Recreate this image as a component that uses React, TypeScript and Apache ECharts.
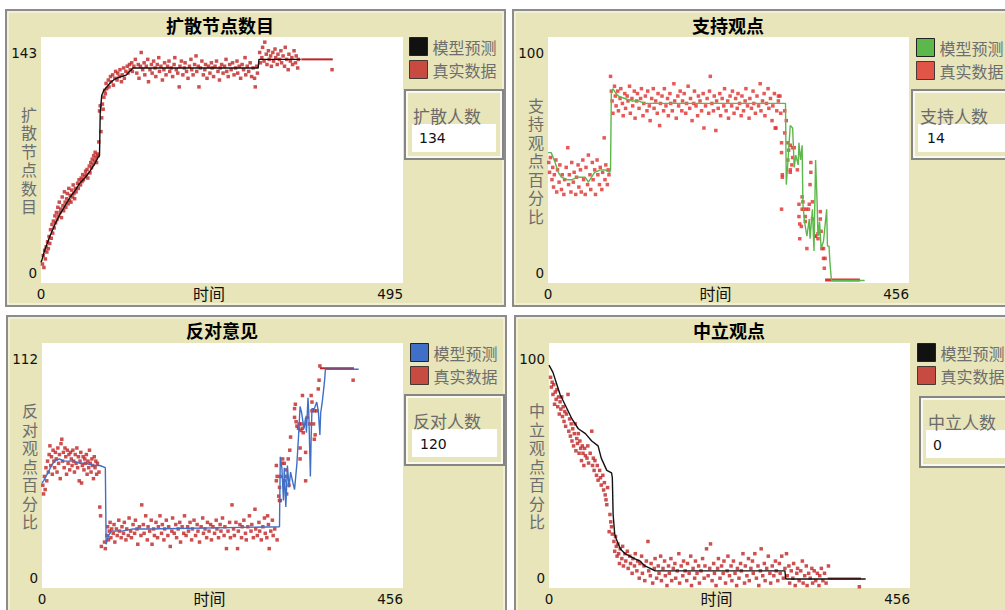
import React, { useEffect, useRef } from "react";
import * as echarts from "echarts";

// ---------------- data ----------------
const LEGEND_NAMES = ["模型预测", "真实数据"];
const TITLES = ["扩散节点数目", "支持观点", "反对意见", "中立观点"];
const Y_NAMES = ["扩散节点数目", "支持观点百分比", "反对观点百分比", "中立观点百分比"];
const X_NAME = "时间";
const X_MAX = [495, 456, 456, 456];
const Y_MAX = [143, 100, 112, 100];
const MONITOR_LABELS = ["扩散人数", "支持人数", "反对人数", "中立人数"];
const MONITOR_VALUES = ["134", "14", "120", "0"];

const P1_MODEL = [[0,12],[1,13],[5,19],[12,27],[19,34],[26,40],[33,45],[40,50],[47,54],[53,58],[60,61],[67,65],[73,69],[78,73],[80,74],[81,99],[83,109],[86,112],[90,114],[96,117],[103,119],[110,120],[117,121],[121,123],[126,125],[297,125],[298,130],[355,130]];
const P1_REAL_LINE = [[356,130],[399,130]];
const P1_REAL = [[2,11],[3,16],[4,9],[5,19],[6,14],[7,21],[8,18],[9,24],[10,20],[11,27],[12,23],[13,31],[14,26],[15,34],[16,29],[17,36],[18,32],[19,39],[20,35],[21,41],[22,37],[23,44],[24,39],[25,47],[26,41],[27,43],[28,38],[29,50],[30,45],[31,42],[32,53],[33,47],[34,44],[35,49],[36,52],[37,46],[38,55],[39,48],[40,51],[41,47],[42,54],[43,50],[44,57],[45,52],[46,49],[47,55],[48,53],[50,58],[51,55],[52,60],[54,57],[55,61],[56,59],[57,63],[58,60],[60,62],[61,65],[62,63],[63,66],[64,61],[66,68],[67,64],[68,70],[69,67],[70,72],[71,69],[72,74],[73,71],[74,76],[75,73],[76,70],[77,75],[78,74],[79,82],[80,100],[81,103],[82,88],[83,96],[84,104],[85,101],[86,108],[87,112],[88,110],[89,116],[90,113],[92,118],[93,114],[95,120],[96,117],[98,121],[99,115],[101,119],[102,123],[104,118],[105,122],[107,120],[108,124],[110,117],[111,121],[113,125],[114,119],[116,123],[118,126],[119,122],[121,127],[122,124],[124,128],[125,123],[127,126],[129,130],[131,122],[133,127],[134,119],[136,126],[137,134],[139,124],[141,128],[142,121],[144,126],[146,130],[147,117],[149,124],[151,127],[152,122],[154,129],[156,125],[157,120],[159,127],[161,131],[162,123],[164,126],[166,118],[168,124],[169,128],[171,121],[173,126],[175,129],[176,123],[178,125],[180,120],[182,127],[183,131],[185,124],[187,122],[189,114],[190,126],[192,129],[194,121],[196,125],[197,128],[199,123],[201,119],[203,126],[205,130],[206,124],[208,121],[210,127],[212,132],[213,123],[215,126],[216,114],[218,125],[220,129],[222,121],[224,124],[225,127],[227,119],[229,126],[231,122],[233,128],[234,125],[236,120],[238,126],[240,129],[242,123],[244,118],[245,125],[247,127],[249,122],[251,126],[253,130],[254,123],[256,120],[258,127],[260,124],[262,128],[264,121],[266,125],[268,129],[269,122],[271,126],[273,119],[275,127],[277,124],[279,131],[280,121],[282,126],[284,123],[286,128],[288,120],[290,125],[292,119],[293,114],[295,126],[296,122],[299,134],[300,128],[302,131],[303,137],[305,129],[306,140],[308,133],[309,127],[311,135],[312,130],[314,132],[315,126],[317,134],[318,129],[320,136],[321,131],[323,127],[324,133],[326,130],[328,135],[329,128],[331,132],[333,126],[334,137],[336,130],[338,124],[339,133],[341,129],[343,131],[344,127],[346,135],[348,128],[349,132],[351,125],[352,130],[398,124]];

const P2_MODEL = [[0,53],[4,53],[9,49],[13,45],[17,43],[24,42],[30,42],[38,43],[47,43],[51,41],[55,43],[59,45],[66,46],[72,46],[78,45],[79,46],[80,77],[82,79],[86,77],[89,76],[97,75],[106,74],[114,74],[122,73],[131,73],[300,73],[301,40],[303,49],[306,64],[309,63],[311,47],[313,52],[316,48],[317,57],[319,50],[321,56],[322,32],[324,25],[327,19],[330,26],[331,18],[334,30],[336,13],[338,50],[340,32],[341,19],[343,25],[345,14],[348,17],[352,30],[353,15],[355,15],[356,9],[358,1],[400,1]];
const P2_REAL_LINE = [[350,1.2],[394,1.2]];
const P2_REAL = [[1,49],[2,45],[3,51],[5,42],[6,47],[7,39],[8,44],[10,50],[11,37],[12,46],[14,41],[15,48],[17,38],[18,44],[20,36],[21,42],[23,47],[25,55],[26,40],[27,44],[29,37],[30,49],[32,41],[33,45],[35,36],[36,43],[38,48],[39,39],[41,46],[42,37],[44,50],[45,42],[47,36],[48,47],[50,40],[51,52],[53,44],[54,38],[56,49],[57,42],[59,46],[60,36],[62,50],[63,44],[65,40],[66,47],[68,38],[69,45],[71,59],[72,42],[73,48],[75,40],[76,46],[77,44],[79,84],[80,78],[81,74],[82,69],[84,80],[85,76],[86,72],[88,78],[89,70],[91,75],[92,79],[94,73],[95,68],[97,77],[98,71],[100,76],[101,74],[103,80],[104,69],[106,75],[107,72],[109,78],[110,67],[112,74],[113,77],[115,71],[117,75],[118,79],[120,68],[121,73],[123,76],[125,70],[126,78],[128,72],[129,66],[131,75],[133,79],[134,71],[136,74],[138,69],[139,77],[141,64],[142,73],[144,76],[146,70],[147,79],[149,72],[151,75],[152,68],[154,77],[155,73],[157,70],[159,81],[160,74],[162,67],[164,76],[165,72],[167,78],[169,70],[170,74],[172,77],[174,69],[175,73],[177,80],[179,71],[180,75],[182,66],[184,73],[185,78],[187,72],[189,68],[190,76],[192,74],[194,70],[196,77],[197,63],[199,72],[201,75],[203,69],[204,78],[205,84],[207,73],[209,70],[210,76],[212,62],[213,74],[215,71],[217,77],[218,68],[220,75],[222,72],[223,79],[225,70],[227,74],[228,67],[230,76],[232,72],[233,78],[235,69],[237,75],[239,71],[240,77],[242,73],[244,68],[245,76],[247,70],[249,74],[250,79],[252,72],[254,67],[255,75],[257,71],[259,78],[260,73],[262,69],[264,76],[266,72],[268,81],[269,70],[271,74],[273,77],[274,68],[276,73],[278,79],[279,71],[281,75],[283,66],[284,72],[286,77],[288,63],[289,70],[291,74],[293,76],[294,69],[287,63],[291,76],[299,70],[299,61],[295,57],[301,66],[303,57],[304,54],[306,56],[309,55],[311,55],[309,51],[303,50],[308,48],[295,53],[306,46],[306,45],[315,46],[296,44],[296,43],[332,49],[332,45],[331,40],[321,35],[317,32],[322,33],[295,30],[321,30],[323,30],[326,30],[330,32],[334,33],[329,30],[317,27],[325,27],[334,26],[325,25],[318,24],[320,23],[344,29],[344,26],[341,20],[338,19],[337,19],[341,18],[345,21],[318,18],[327,14],[346,14],[348,14],[348,10],[350,10],[349,6]];

const P3_MODEL = [[0,48],[2,49],[5,51],[8,53],[12,56],[16,58],[22,59],[27,58],[33,58],[40,58],[48,57],[56,57],[65,56],[73,56],[80,55],[81,20],[84,24],[88,26],[101,26],[115,27],[136,27],[300,28],[301,60],[303,55],[305,40],[306,55],[308,37],[310,56],[312,46],[314,53],[317,48],[319,45],[322,57],[324,69],[326,83],[328,80],[330,75],[331,73],[333,78],[334,71],[336,87],[337,80],[339,51],[340,69],[341,82],[344,82],[347,85],[349,81],[351,70],[352,80],[354,85],[357,95],[358,100],[400,100]];
const P3_REAL_LINE = [[351,100.5],[394,100.5]];
const P3_REAL = [[1,47],[2,43],[3,51],[4,45],[5,55],[6,49],[7,58],[8,53],[9,61],[10,65],[11,56],[12,60],[13,52],[14,63],[15,58],[16,55],[17,62],[18,59],[19,53],[20,64],[21,57],[22,61],[23,50],[24,66],[25,68],[26,58],[27,62],[28,55],[29,64],[30,60],[31,52],[32,63],[33,57],[34,61],[35,54],[36,62],[37,59],[38,56],[39,63],[40,58],[41,53],[42,61],[43,57],[44,64],[45,55],[46,60],[47,49],[48,58],[49,62],[50,48],[51,56],[52,60],[53,54],[54,59],[55,57],[56,61],[57,52],[58,58],[59,55],[60,63],[61,57],[62,53],[63,59],[64,56],[65,50],[66,60],[67,55],[68,58],[69,52],[70,57],[72,53],[73,37],[74,33],[75,19],[79,21],[80,18],[82,24],[83,28],[84,22],[85,26],[86,30],[87,23],[88,27],[90,25],[91,29],[92,21],[94,27],[95,24],[97,31],[98,26],[100,23],[101,28],[103,25],[104,30],[106,22],[107,27],[109,24],[110,32],[112,26],[113,23],[115,29],[117,25],[118,31],[120,27],[121,20],[123,28],[125,24],[126,38],[128,29],[129,25],[131,33],[133,22],[134,28],[136,26],[138,31],[139,20],[141,27],[142,24],[144,30],[146,23],[147,28],[149,33],[151,25],[152,29],[154,22],[155,27],[157,31],[159,24],[160,28],[162,19],[164,26],[165,32],[167,25],[169,29],[170,23],[172,27],[174,30],[175,21],[177,28],[179,25],[180,33],[182,24],[184,28],[185,26],[187,30],[189,22],[190,27],[192,31],[194,24],[196,29],[197,26],[199,21],[201,28],[203,32],[204,25],[206,27],[208,23],[209,30],[211,26],[213,29],[214,22],[216,28],[218,25],[220,31],[221,27],[223,23],[225,29],[226,26],[228,32],[230,24],[231,28],[233,18],[235,26],[237,30],[238,23],[240,38],[242,27],[243,24],[245,30],[247,18],[248,26],[250,29],[252,23],[253,28],[255,31],[257,25],[258,22],[260,28],[262,33],[264,26],[265,29],[267,23],[269,36],[270,27],[272,24],[274,30],[275,26],[277,22],[279,28],[281,32],[282,25],[284,23],[285,33],[286,29],[287,18],[289,26],[291,31],[292,24],[294,27],[297,22],[296,56],[297,51],[296,49],[300,46],[299,42],[300,40],[301,40],[301,51],[303,57],[306,57],[304,59],[311,59],[308,54],[309,51],[312,47],[306,49],[309,43],[313,63],[314,69],[319,78],[320,84],[319,82],[321,76],[322,74],[324,73],[325,75],[327,72],[329,73],[329,88],[340,88],[341,85],[341,81],[344,81],[347,81],[343,75],[338,75],[333,62],[326,64],[326,59],[345,70],[344,68],[333,49],[335,78],[328,75],[330,71],[349,91],[350,95],[351,101.5],[393,95]];

const P4_MODEL = [[0,91],[5,88],[9,84],[14,79],[20,75],[29,69],[37,65],[46,63],[54,60],[62,58],[66,53],[73,48],[79,47],[80,45],[81,30],[83,22],[85,20],[90,16],[96,14],[102,13],[108,12],[115,11],[121,9],[128,8],[134,7],[298,7],[299,3.7],[400,3.7]];
const P4_REAL_LINE = [[352,3.9],[394,3.9]];
const P4_REAL = [[2,86],[3,82],[4,84],[5,79],[6,83],[7,75],[8,80],[9,77],[10,81],[11,74],[12,78],[13,71],[14,76],[15,73],[16,78],[17,70],[18,74],[19,68],[20,72],[21,66],[22,71],[24,79],[25,64],[26,69],[27,62],[28,67],[29,60],[30,65],[31,58],[32,63],[33,67],[34,56],[35,61],[36,59],[37,63],[38,55],[39,60],[40,57],[41,52],[42,58],[43,55],[44,50],[45,57],[46,54],[48,53],[49,58],[50,51],[52,55],[54,64],[55,50],[56,53],[57,48],[58,52],[60,46],[61,50],[62,44],[64,48],[65,45],[66,42],[68,46],[69,40],[70,43],[71,38],[72,36],[73,34],[74,41],[76,23],[77,30],[78,27],[79,25],[80,22],[82,19],[83,15],[84,21],[85,17],[86,13],[87,18],[88,14],[89,10],[90,16],[92,12],[93,17],[94,9],[96,14],[97,11],[99,15],[100,8],[102,13],[103,10],[105,6],[106,12],[108,9],[109,14],[111,7],[112,11],[114,4],[115,10],[117,13],[118,6],[120,9],[121,3],[123,11],[125,19],[126,7],[128,5],[129,10],[131,2],[133,8],[134,12],[136,4],[138,9],[139,6],[141,13],[142,3],[144,8],[146,11],[147,5],[149,1],[151,9],[152,6],[154,12],[155,3],[157,8],[159,10],[160,4],[162,7],[164,14],[165,2],[167,9],[169,5],[170,11],[172,7],[174,3],[175,10],[177,6],[179,13],[180,1],[182,8],[184,4],[185,11],[187,6],[189,9],[190,2],[192,7],[194,12],[196,4],[197,9],[199,16],[201,5],[203,8],[204,18],[206,3],[208,10],[209,6],[211,1],[213,8],[214,12],[216,4],[218,9],[220,6],[221,11],[223,2],[225,7],[226,13],[228,5],[230,9],[231,3],[233,11],[235,6],[237,1],[238,8],[240,4],[242,10],[243,7],[245,14],[247,2],[248,9],[250,5],[252,12],[253,3],[255,8],[257,11],[258,6],[260,14],[262,4],[264,9],[265,1],[267,7],[268,16],[270,5],[272,10],[273,3],[275,8],[277,13],[279,6],[280,2],[282,9],[284,5],[286,11],[287,7],[289,3],[291,10],[292,6],[294,13],[296,4],[298,8],[300,14],[301,5],[303,9],[304,2],[306,7],[308,4],[309,10],[311,1],[313,6],[314,8],[316,3],[318,7],[320,11],[321,2],[323,5],[325,9],[326,1],[328,6],[330,4],[332,8],[333,2],[335,7],[337,3],[339,6],[341,1],[342,5],[344,8],[346,3],[348,6],[350,2],[353,9],[392,0.5]];

const MODELS = [P1_MODEL, P2_MODEL, P3_MODEL, P4_MODEL];
const REALS = [P1_REAL, P2_REAL, P3_REAL, P4_REAL];
const REAL_LINES = [P1_REAL_LINE, P2_REAL_LINE, P3_REAL_LINE, P4_REAL_LINE];

// ---------------- styling / layout ----------------
const MODEL_COLORS = ["#111111", "#5cb84a", "#3f6fc6", "#111111"];
const REAL_COLORS = ["#c02424", "#e0302c", "#c02424", "#c02424"];
const REAL_LINE_WIDTH = [2, 3, 2, 2];
const BEIGE = "#e7e5b9";
const CJK = '"Noto Sans CJK SC", sans-serif';
const NUM = '"DejaVu Sans", sans-serif';

const LAYOUT = [
  { frame: [6, 10, 499, 296], grid: [41, 37, 362, 246], legend: [409, 37], mon: [405, 90, 98, 69], monLabel: [413, 115], monBox: [412, 124, 84, 28], monVal: [419, 138], title: [220, 25] },
  { frame: [513, 10, 500, 296], grid: [548, 37, 361, 246], legend: [916, 38], mon: [912, 90, 100, 69], monLabel: [920, 115], monBox: [918, 124, 90, 28], monVal: [927, 138], title: [728, 25] },
  { frame: [7, 316, 499, 300], grid: [42, 343, 361, 245], legend: [410, 343], mon: [405, 395, 99, 70], monLabel: [413, 420], monBox: [412, 429, 85, 28], monVal: [420, 444], title: [222, 330] },
  { frame: [515, 316, 500, 300], grid: [549, 343, 361, 245], legend: [917, 343], mon: [920, 397, 95, 70], monLabel: [928, 421], monBox: [926, 430, 85, 28], monVal: [933, 445], title: [729, 330] },
];

function buildOption() {
  const grids: any[] = [];
  const xAxes: any[] = [];
  const yAxes: any[] = [];
  const series: any[] = [];
  const legends: any[] = [];
  const graphics: any[] = [];

  LAYOUT.forEach((L, i) => {
    const [fx, fy, fw, fh] = L.frame;
    const [gx, gy, gw, gh] = L.grid;
    graphics.push(
      { type: "rect", z: -6, shape: { x: fx, y: fy, width: fw, height: fh }, style: { fill: BEIGE, stroke: "#8c8c8c", lineWidth: 2 } },
      { type: "rect", z: -5, shape: { x: fx + 2, y: fy + 2, width: fw - 4, height: fh - 4 }, style: { fill: "none", stroke: "#fbfbf0", lineWidth: 1 } },
      { type: "rect", z: -4, shape: { x: gx, y: gy, width: gw, height: gh }, style: { fill: "#ffffff" } },
      { type: "rect", z: -4, shape: { x: L.mon[0], y: L.mon[1], width: L.mon[2], height: L.mon[3] }, style: { fill: BEIGE, stroke: "#858585", lineWidth: 2 } },
      { type: "rect", z: -3, shape: { x: L.mon[0] + 2, y: L.mon[1] + 2, width: L.mon[2] - 4, height: L.mon[3] - 4 }, style: { fill: "none", stroke: "#ffffff", lineWidth: 1.5 } },
      { type: "rect", z: -2, shape: { x: L.monBox[0], y: L.monBox[1], width: L.monBox[2], height: L.monBox[3] }, style: { fill: "#ffffff" } },
      { type: "text", z: 1, x: L.title[0], y: L.title[1], style: { text: TITLES[i], font: `bold 18px ${CJK}`, fill: "#000", align: "center", verticalAlign: "middle" } },
      { type: "text", z: 1, x: L.monLabel[0], y: L.monLabel[1], style: { text: MONITOR_LABELS[i], font: `17px ${CJK}`, fill: "#6a6a6a", align: "left", verticalAlign: "middle" } },
      { type: "text", z: 1, x: L.monVal[0], y: L.monVal[1], style: { text: MONITOR_VALUES[i], font: `14px ${NUM}`, fill: "#111", align: "left", verticalAlign: "middle" } }
    );

    grids.push({ left: gx, top: gy, width: gw, height: gh, containLabel: false, outerBoundsMode: "none", show: false });

    xAxes.push({
      type: "value", gridIndex: i, min: 0, max: X_MAX[i], interval: X_MAX[i], z: 5,
      splitLine: { show: false }, axisLine: { show: false }, axisTick: { show: false },
      axisLabel: { margin: 4, fontSize: 13.5, fontFamily: NUM, color: "#111", alignMinLabel: "center", alignMaxLabel: "right", showMinLabel: true, showMaxLabel: true, hideOverlap: false },
      name: X_NAME, nameLocation: "middle", nameGap: 2, nameMoveOverlap: false,
      nameTextStyle: { fontSize: 16, fontFamily: CJK, color: "#111", padding: [0, 26, 0, 0], verticalAlign: "top" },
    });

    yAxes.push({
      type: "value", gridIndex: i, min: 0, max: Y_MAX[i], interval: Y_MAX[i], z: 5,
      splitLine: { show: false }, axisLine: { show: false }, axisTick: { show: false },
      axisLabel: {
        margin: 4, showMinLabel: true, showMaxLabel: true, hideOverlap: false,
        formatter: (v: number) => (v === 0 ? `{lo|${v}}` : `{hi|${v}}`),
        rich: {
          lo: { fontSize: 13.5, fontFamily: NUM, color: "#111", padding: [0, 0, 20, 0] },
          hi: { fontSize: 13.5, fontFamily: NUM, color: "#111", padding: [32, 0, 0, 0] },
        },
      },
      name: Y_NAMES[i].split("").join("\n"), nameLocation: "middle", nameRotate: 0, nameGap: 4, nameMoveOverlap: false,
      nameTextStyle: { fontSize: 16, fontFamily: CJK, color: "#6e6e6e", lineHeight: 18.5, padding: [10, 0, 0, 0] },
    });

    legends.push({
      left: L.legend[0], top: L.legend[1], orient: "vertical", padding: 0,
      itemWidth: 18, itemHeight: 18, itemGap: 4, icon: "rect", selectedMode: false,
      textStyle: { fontSize: 16, fontFamily: CJK, color: "#6e6e6e" },
      data: [
        { name: LEGEND_NAMES[0], itemStyle: { color: MODEL_COLORS[i], borderColor: "#222", borderWidth: 1 } },
        { name: LEGEND_NAMES[1], itemStyle: { color: REAL_COLORS[i], borderColor: "#222", borderWidth: 1 } },
      ],
    });

    series.push(
      { type: "scatter", name: LEGEND_NAMES[1], xAxisIndex: i, yAxisIndex: i, data: REALS[i], symbol: "rect", symbolSize: 3.5, itemStyle: { color: REAL_COLORS[i] }, z: 2, silent: true },
      { type: "line", name: LEGEND_NAMES[1], xAxisIndex: i, yAxisIndex: i, data: REAL_LINES[i], showSymbol: false, lineStyle: { color: REAL_COLORS[i], width: REAL_LINE_WIDTH[i] }, itemStyle: { color: REAL_COLORS[i] }, z: 3, silent: true },
      { type: "line", name: LEGEND_NAMES[0], xAxisIndex: i, yAxisIndex: i, data: MODELS[i], showSymbol: false, lineStyle: { color: MODEL_COLORS[i], width: 1.4 }, itemStyle: { color: MODEL_COLORS[i] }, z: 4, silent: true }
    );
  });

  return {
    animation: false,
    backgroundColor: "#ffffff",
    grid: grids,
    xAxis: xAxes,
    yAxis: yAxes,
    legend: legends,
    series,
    graphic: { elements: graphics },
  };
}

export default function App() {
  const ref = useRef<HTMLDivElement>(null);
  useEffect(() => {
    if (!ref.current) return;
    const chart = echarts.init(ref.current, undefined, { renderer: "svg" });
    chart.setOption(buildOption() as any);
    return () => chart.dispose();
  }, []);
  return <div ref={ref} style={{ position: "absolute", left: 0, top: 0, width: 1005, height: 610 }} />;
}
